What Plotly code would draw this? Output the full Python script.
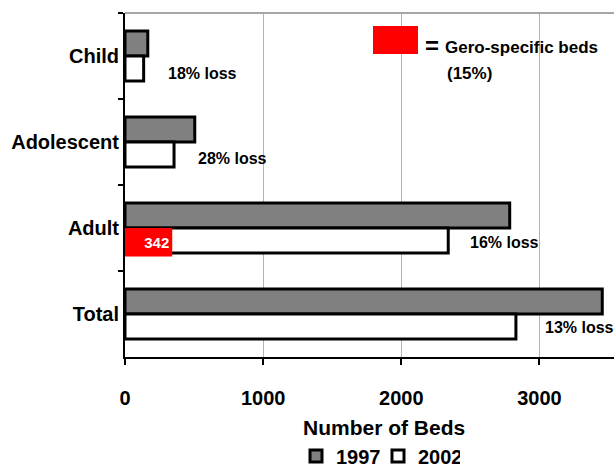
import plotly.graph_objects as go

# Psychiatric beds by age group, 1997 vs 2002
categories = ["Child", "Adolescent", "Adult", "Total"]
beds_1997 = [165, 505, 2785, 3455]
beds_2002 = [135, 355, 2340, 2830]
gero_beds = [342]          # gero-specific share of adult beds (2002)
gero_category = ["Adult"]
loss_labels = ["18% loss", "28% loss", "16% loss", "13% loss"]
x_ticks = [0, 1000, 2000, 3000]

# label placement (data x, offset below category centre)
loss_x = [558, 775, 2746, 3025]
loss_dy = [0.20, 0.19, 0.17, 0.16]
loss_anchor = ["center", "center", "center", "left"]

W, H = 614, 471
L, R, T, B = 125, 0, 13, 114
BAR_W = 0.29
FONT = "Arial, Liberation Sans, sans-serif"


def px(x):
    return (x - L) / (W - L - R)


def py(y):
    return (H - B - y) / (H - T - B)


fig = go.Figure()
fig.add_trace(go.Bar(
    name="1997", y=categories, x=beds_1997, orientation="h",
    width=BAR_W, offset=-BAR_W,
    marker=dict(color="#808080", line=dict(color="black", width=3)),
))
fig.add_trace(go.Bar(
    name="2002", y=categories, x=beds_2002, orientation="h",
    width=BAR_W, offset=0,
    marker=dict(color="white", line=dict(color="black", width=3)),
))
fig.add_trace(go.Bar(
    name="Gero-specific", y=gero_category, x=gero_beds, orientation="h",
    width=0.33, offset=0, showlegend=False,
    marker=dict(color="#ff0000", line=dict(width=0)),
    text=[str(v) for v in gero_beds], textposition="inside",
    insidetextanchor="end",
    textfont=dict(color="white", size=15, family=FONT, weight="bold"),
))

annotations = []
for lab, xv, dy, cat, anc in zip(loss_labels, loss_x, loss_dy, categories, loss_anchor):
    annotations.append(dict(
        x=xv, y=categories.index(cat) + dy, xref="x", yref="y",
        text=lab, showarrow=False, xanchor=anc, yanchor="middle",
        font=dict(size=16, family=FONT, color="black", weight="bold"),
    ))

# key for the red gero-specific segment
annotations += [
    dict(x=px(423), y=py(45), xref="paper", yref="paper", text="=",
         showarrow=False, xanchor="left", yanchor="middle",
         font=dict(size=24, family=FONT, color="black", weight="bold")),
    dict(x=px(443), y=py(48), xref="paper", yref="paper", text="Gero-specific beds",
         showarrow=False, xanchor="left", yanchor="middle",
         font=dict(size=17, family=FONT, color="black", weight="bold")),
    dict(x=px(445), y=py(73), xref="paper", yref="paper", text="(15%)",
         showarrow=False, xanchor="left", yanchor="middle",
         font=dict(size=17, family=FONT, color="black", weight="bold")),
    dict(x=px(384), y=py(427), xref="paper", yref="paper", text="Number of Beds",
         showarrow=False, xanchor="center", yanchor="middle",
         font=dict(size=21, family=FONT, color="black", weight="bold")),
]

shapes = [
    dict(type="rect", xref="paper", yref="paper",
         x0=px(373), x1=px(418), y0=py(54), y1=py(26),
         fillcolor="#ff0000", line=dict(width=0)),
    dict(type="line", xref="paper", yref="paper", x0=0, x1=1, y0=1, y1=1,
         line=dict(color="#a6a6a6", width=2)),
]

fig.update_layout(
    width=W, height=H,
    margin=dict(l=L, r=R, t=T, b=B, pad=0, autoexpand=False),
    barmode="overlay",
    paper_bgcolor="white", plot_bgcolor="white",
    font=dict(family=FONT, color="black", weight="bold"),
    showlegend=True,
    legend=dict(
        orientation="h", x=px(378), xanchor="center", y=py(456), yanchor="middle",
        font=dict(size=20, family=FONT, color="black", weight="bold"),
        traceorder="normal", bgcolor="rgba(0,0,0,0)",
        entrywidth=37, entrywidthmode="pixels",
    ),
    annotations=annotations,
    shapes=shapes,
)

fig.update_xaxes(
    range=[0, 3540], tickvals=x_ticks, ticktext=[str(v) for v in x_ticks],
    showgrid=True, gridcolor="#b3b3b3", gridwidth=1, zeroline=False,
    showline=True, linecolor="black", linewidth=1.5,
    ticks="outside", ticklen=6, tickcolor="black", tickwidth=1.5,
    ticklabelstandoff=16,
    tickfont=dict(size=20, family=FONT, color="black", weight="bold"),
)
fig.update_yaxes(
    categoryorder="array", categoryarray=categories, autorange="reversed",
    showgrid=False, zeroline=False,
    showline=True, linecolor="black", linewidth=2,
    ticks="outside", tickson="boundaries", ticklen=5, tickcolor="black", tickwidth=1.5,
    tickfont=dict(size=20, family=FONT, color="black", weight="bold"),
)

fig.write_html("out.html")
